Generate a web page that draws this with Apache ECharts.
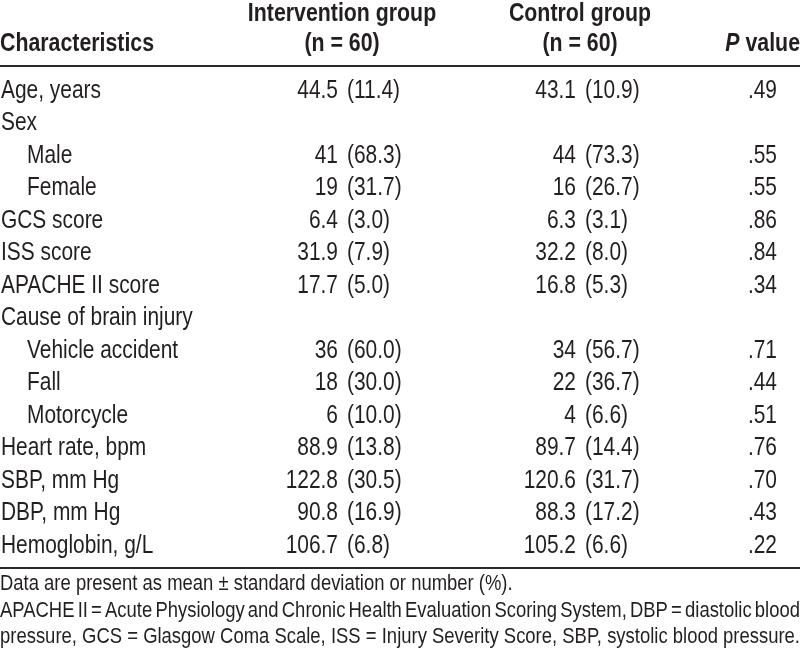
<!DOCTYPE html>
<html><head><meta charset="utf-8">
<script src="https://cdn.jsdelivr.net/npm/echarts@6/dist/echarts.min.js"></script>
<style>html,body{margin:0;padding:0;background:#fff}#c{width:800px;height:668px}</style>
</head><body><div id="c"></div>
<script>
// ---------------- DATA ----------------
const characteristics = ['Age, years','Sex','Male','Female','GCS score','ISS score','APACHE II score','Cause of brain injury','Vehicle accident','Fall','Motorcycle','Heart rate, bpm','SBP, mm Hg','DBP, mm Hg','Hemoglobin, g/L'];
const subItem = [false,false,true,true,false,false,false,false,true,true,true,false,false,false,false];
const interventionGroup = ['44.5 (11.4)','','41 (68.3)','19 (31.7)','6.4 (3.0)','31.9 (7.9)','17.7 (5.0)','','36 (60.0)','18 (30.0)','6 (10.0)','88.9 (13.8)','122.8 (30.5)','90.8 (16.9)','106.7 (6.8)'];
const controlGroup = ['43.1 (10.9)','','44 (73.3)','16 (26.7)','6.3 (3.1)','32.2 (8.0)','16.8 (5.3)','','34 (56.7)','22 (36.7)','4 (6.6)','89.7 (14.4)','120.6 (31.7)','88.3 (17.2)','105.2 (6.6)'];
const pValues = ['.49','','.55','.55','.86','.84','.34','','.71','.44','.51','.76','.70','.43','.22'];
const headerTop = ['Intervention group','Control group'];
const headerBottom = ['Characteristics','(n = 60)','(n = 60)','P',' value'];
const footnotes = [
  'Data are present as mean \u00b1 standard deviation or number (%).',
  'APACHE II = Acute Physiology and Chronic Health Evaluation Scoring System, DBP = diastolic blood',
  'pressure, GCS = Glasgow Coma Scale, ISS = Injury Severity Score, SBP, systolic blood pressure.'
];
const footnoteJustified = [false, true, true];

// ---------------- LAYOUT / STYLE ----------------
const FAMILY = '"Liberation Sans", Arial, sans-serif';
const SX = 0.82;                 // horizontal condensing (narrow face)
const TXT = '#231f20';
const RULE = '#2a2a2a';
const BODY_FONT = '25.5px ' + FAMILY;
const HEAD_FONT = 'bold 26px ' + FAMILY;
const NOTE_FONT = '22.5px ' + FAMILY;
const colX = {label: 1, indent: 27, intRight: 338, intLeft: 347, ctlRight: 576, ctlLeft: 585, pRight: 777};
const rowTop = 74.5, rowBand = 32.5;
const headY1 = 14, headY2 = 44, ruleTop = 66, ruleBottom = 568;
const noteY = [584, 611, 637];
const noteWidth = 800;

function part(s, k){ return s === '' ? '' : s.split(' ')[k]; }

function textColumn(texts, xFn, align){
  const items = [];
  texts.forEach((t, i) => { if (t !== '') items.push({t: t, x: xFn(i), row: i}); });
  return {
    type: 'custom', coordinateSystem: 'cartesian2d', silent: true, animation: false,
    data: items.map(d => [d.x, d.row]),
    encode: {x: 0, y: 1},
    renderItem: function(params, api){
      const p = api.coord([api.value(0), api.value(1)]);
      return {type: 'text', x: p[0], y: p[1], scaleX: SX,
        style: {text: items[params.dataIndex].t, font: BODY_FONT, fill: TXT, align: align, verticalAlign: 'middle'}};
    }
  };
}

function gText(text, x, y, align, font, rich){
  const st = {text: text, font: font, fill: TXT, align: align, textAlign: align, verticalAlign: 'middle', textVerticalAlign: 'middle'};
  if (rich) st.rich = rich;
  return {type: 'text', x: x, y: y, scaleX: SX, silent: true, style: st};
}

// justified footnote lines: distribute the spare width over word gaps
const measureCtx = document.createElement('canvas').getContext('2d');
function noteLine(text, y, justify){
  if (!justify) return [gText(text, 0, y, 'left', NOTE_FONT)];
  measureCtx.font = NOTE_FONT;
  const words = text.split(' ');
  const widths = words.map(w => measureCtx.measureText(w).width * SX);
  const total = widths.reduce((a, b) => a + b, 0);
  const gap = (noteWidth - total) / (words.length - 1);
  const out = []; let x = 0;
  words.forEach((w, i) => { out.push(gText(w, x, y, 'left', NOTE_FONT)); x += widths[i] + gap; });
  return out;
}

const chart = echarts.init(document.getElementById('c'), null, {renderer: 'canvas'});
let graphics = [
  gText(headerTop[0], 342, headY1, 'center', HEAD_FONT),
  gText(headerTop[1], 580, headY1, 'center', HEAD_FONT),
  gText(headerBottom[0], 0, headY2, 'left', HEAD_FONT),
  gText(headerBottom[1], 342, headY2, 'center', HEAD_FONT),
  gText(headerBottom[2], 580, headY2, 'center', HEAD_FONT),
  gText('{i|' + headerBottom[3] + '}' + headerBottom[4], 800, headY2, 'right', HEAD_FONT,
        {i: {fontStyle: 'italic', fontWeight: 'bold', fontSize: 26, fontFamily: FAMILY, fill: TXT, color: TXT}}),
  {type: 'line', silent: true, shape: {x1: 0, y1: ruleTop, x2: 800, y2: ruleTop}, style: {stroke: RULE, lineWidth: 2}},
  {type: 'line', silent: true, shape: {x1: 0, y1: ruleBottom, x2: 800, y2: ruleBottom}, style: {stroke: RULE, lineWidth: 2}}
];
footnotes.forEach((f, i) => { graphics = graphics.concat(noteLine(f, noteY[i], footnoteJustified[i])); });

chart.setOption({
  animation: false,
  backgroundColor: '#fff',
  grid: {left: 0, right: 0, top: rowTop, height: rowBand * characteristics.length, containLabel: false},
  xAxis: {type: 'value', min: 0, max: 800, show: false},
  yAxis: {type: 'category', data: characteristics, inverse: true, show: false},
  series: [
    textColumn(characteristics, i => subItem[i] ? colX.indent : colX.label, 'left'),
    textColumn(interventionGroup.map(s => part(s, 0)), () => colX.intRight, 'right'),
    textColumn(interventionGroup.map(s => part(s, 1)), () => colX.intLeft, 'left'),
    textColumn(controlGroup.map(s => part(s, 0)), () => colX.ctlRight, 'right'),
    textColumn(controlGroup.map(s => part(s, 1)), () => colX.ctlLeft, 'left'),
    textColumn(pValues, () => colX.pRight, 'right')
  ],
  graphic: graphics
});
</script></body></html>
